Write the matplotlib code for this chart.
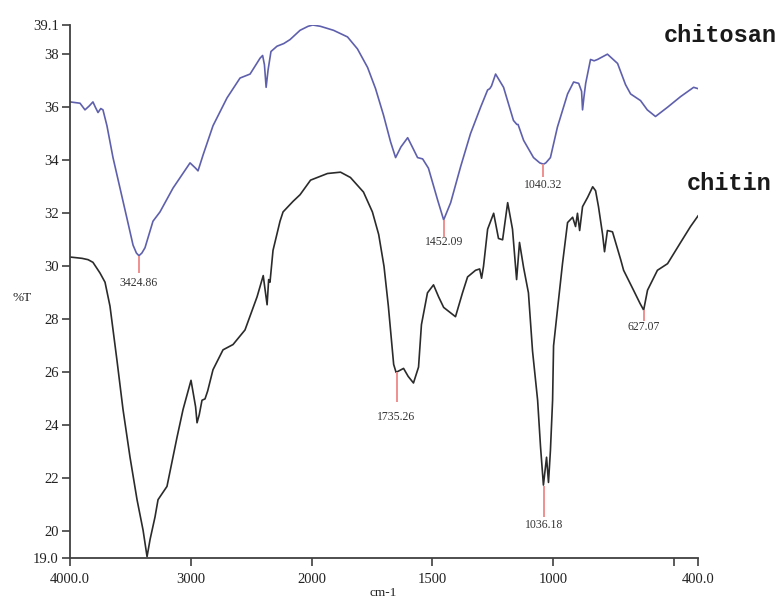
import numpy as np
import matplotlib
matplotlib.use("Agg")
import matplotlib.pyplot as plt

# FTIR spectra (wavenumber in cm-1, transmittance in %T)
chitosan_wn = [4000, 3917, 3876, 3840, 3810, 3790, 3768, 3745, 3727, 3694,
               3644, 3586, 3528, 3478, 3450, 3429, 3405, 3379, 3313, 3255,
               3147, 3006, 2960, 2940, 2898, 2816, 2700, 2592, 2509, 2426,
               2405, 2390, 2376, 2360, 2336, 2286, 2230, 2178, 2095, 2029,
               1995, 1963, 1909, 1851, 1810, 1768, 1735, 1702, 1673, 1652,
               1630, 1602, 1580, 1561, 1540, 1516, 1478, 1453, 1424, 1383,
               1342, 1300, 1271, 1262, 1255, 1238, 1205, 1164, 1150, 1145,
               1122, 1081, 1055, 1040, 1030, 1011, 982, 940, 915, 894,
               882, 878, 872, 865, 845, 830, 816, 775, 733, 700,
               679, 638, 610, 576, 526, 472, 418, 400]
chitosan_t = [36.2, 36.15, 35.9, 36.05, 36.2, 36.0, 35.8, 35.95, 35.9, 35.3,
              34.1, 32.95, 31.8, 30.8, 30.5, 30.4, 30.5, 30.7, 31.7, 32.05,
              32.95, 33.9, 33.7, 33.6, 34.2, 35.3, 36.35, 37.1, 37.25, 37.85,
              37.95, 37.6, 36.75, 37.4, 38.1, 38.3, 38.4, 38.55, 38.9, 39.05,
              39.1, 39.05, 38.9, 38.65, 38.2, 37.5, 36.7, 35.7, 34.7, 34.1,
              34.5, 34.85, 34.45, 34.1, 34.05, 33.7, 32.5, 31.75, 32.4, 33.75,
              35.0, 36.0, 36.65, 36.7, 36.8, 37.25, 36.75, 35.5, 35.35, 35.35,
              34.75, 34.1, 33.9, 33.85, 33.9, 34.1, 35.25, 36.5, 36.95, 36.9,
              36.6, 35.9, 36.4, 36.9, 37.8, 37.75, 37.8, 38.0, 37.65, 36.85,
              36.5, 36.25, 35.9, 35.65, 36.0, 36.4, 36.75, 36.7]

chitin_wn = [4000, 3900, 3850, 3810, 3752, 3710, 3669, 3611, 3561, 3503,
             3445, 3395, 3362, 3337, 3296, 3271, 3197, 3114, 3064, 2998,
             2960, 2948, 2930, 2907, 2882, 2860, 2816, 2733, 2650, 2551,
             2451, 2400, 2390, 2368, 2355, 2344, 2319, 2261, 2236, 2153,
             2095, 2008, 1934, 1880, 1839, 1785, 1748, 1722, 1700, 1682,
             1670, 1660, 1650, 1619, 1600, 1578, 1557, 1545, 1520, 1495,
             1474, 1453, 1404, 1375, 1354, 1321, 1304, 1296, 1288, 1271,
             1246, 1226, 1209, 1188, 1168, 1151, 1139, 1122, 1102, 1085,
             1064, 1052, 1040, 1027, 1019, 1011, 1002, 998, 982, 961,
             940, 919, 907, 899, 890, 878, 857, 836, 824, 812,
             795, 787, 775, 754, 720, 708, 667, 640, 625, 609,
             568, 526, 472, 431, 400]
chitin_t = [30.35, 30.3, 30.25, 30.15, 29.75, 29.4, 28.5, 26.45, 24.6, 22.8,
            21.2, 20.05, 19.05, 19.7, 20.55, 21.2, 21.7, 23.55, 24.6, 25.7,
            24.7, 24.1, 24.4, 24.95, 25.0, 25.3, 26.1, 26.85, 27.05, 27.6,
            28.85, 29.65, 29.3, 28.55, 29.5, 29.4, 30.6, 31.7, 32.05, 32.45,
            32.7, 33.25, 33.5, 33.55, 33.35, 32.8, 32.05, 31.2, 30.0, 28.5,
            27.3, 26.3, 26.0, 26.15, 25.85, 25.6, 26.2, 27.8, 29.0, 29.3,
            28.85, 28.45, 28.1, 29.0, 29.6, 29.85, 29.9, 29.55, 30.0, 31.4,
            32.0, 31.05, 31.0, 32.4, 31.4, 29.5, 30.9, 29.95, 29.0, 26.8,
            24.95, 23.2, 21.75, 22.8, 21.85, 23.05, 24.95, 27.0, 28.35, 30.1,
            31.65, 31.85, 31.5, 32.0, 31.35, 32.25, 32.6, 33.0, 32.85, 32.25,
            31.2, 30.55, 31.35, 31.3, 30.25, 29.85, 29.1, 28.6, 28.35, 29.1,
            29.85, 30.1, 30.9, 31.5, 31.9]

# peak picks: label, position, marker top / bottom, label centre
peak_labels = ["3424.86", "1452.09", "1040.32", "1735.26", "1036.18", "627.07"]
peak_wn = [3429, 1453, 1040, 1648, 1036, 625]
peak_top = [30.4, 31.75, 33.85, 26.0, 21.7, 28.35]
peak_bottom = [29.75, 31.1, 33.35, 24.9, 20.55, 27.95]
peak_text_t = [29.37, 30.92, 33.07, 24.32, 20.25, 27.71]

x_ticks = [4000, 3000, 2000, 1500, 1000, 500, 400]
x_tick_labels = ["4000.0", "3000", "2000", "1500", "1000", "", "400.0"]
y_ticks = [19.0, 20, 22, 24, 26, 28, 30, 32, 34, 36, 38, 39.1]
y_tick_labels = ["19.0", "20", "22", "24", "26", "28", "30", "32", "34", "36", "38", "39.1"]


def fwd(w):
    # spectrometer style axis: scale doubles below 2000 cm-1
    w = np.asarray(w, dtype=float)
    return np.where(w >= 2000, w, 2 * w - 2000)


def inv(t):
    t = np.asarray(t, dtype=float)
    return np.where(t >= 2000, t, (t + 2000) / 2)


serif = "Liberation Serif"
W, H = 780, 599
fig = plt.figure(figsize=(W / 100, H / 100), dpi=100)
ax = fig.add_axes([70 / W, 1 - 558 / H, 628 / W, 533 / H])
ax.set_xscale("function", functions=(fwd, inv))

ax.plot(chitosan_wn, chitosan_t, color="#5f60ad", lw=1.2)
ax.plot(chitin_wn, chitin_t, color="#2b2b2b", lw=1.2)

ax.vlines(peak_wn, peak_bottom, peak_top, color="#ee8f8f", lw=1.4)
for lab, w, t in zip(peak_labels, peak_wn, peak_text_t):
    ax.text(w, t, lab, ha="center", va="center", fontsize=8.5,
            family=serif, color="#333333")

ax.set_xlim(4000, 400)
ax.set_ylim(19.0, 39.1)
ax.set_xticks(x_ticks)
ax.set_xticklabels(x_tick_labels)
ax.set_yticks(y_ticks)
ax.set_yticklabels(y_tick_labels)
ax.minorticks_off()

for side in ("top", "right"):
    ax.spines[side].set_visible(False)
for side in ("left", "bottom"):
    ax.spines[side].set_color("#404040")
    ax.spines[side].set_linewidth(1.3)
ax.tick_params(direction="out", length=6, width=1.2, color="#404040",
               labelsize=10.5, labelcolor="#222222", pad=2)
for lbl in ax.get_xticklabels() + ax.get_yticklabels():
    lbl.set_family(serif)
ax.tick_params(axis="x", pad=5)

fig.text(22 / W, 1 - 298 / H, "%T", ha="center", va="center",
         fontsize=9.5, family=serif, color="#222222")
fig.text(383 / W, 1 - 593 / H, "cm-1", ha="center", va="center",
         fontsize=9.5, family=serif, color="#222222")

fig.text(720 / W, 1 - 35 / H, "chitosan", ha="center", va="center",
         fontsize=17, family="Liberation Mono", weight="bold", color="#1a1a1a")
fig.text(729 / W, 1 - 183 / H, "chitin", ha="center", va="center",
         fontsize=17, family="Liberation Mono", weight="bold", color="#1a1a1a")

fig.savefig("out.png", dpi=100, facecolor="white")
plt.close(fig)
